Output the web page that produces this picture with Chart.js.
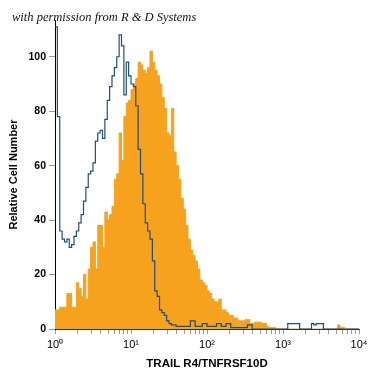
<!DOCTYPE html>
<html>
<head>
<meta charset="utf-8">
<script src="https://cdn.jsdelivr.net/npm/chart.js@4.4.1/dist/chart.umd.min.js"></script>
<style>
html, body { margin: 0; padding: 0; background: #fff; }
#wrap { width: 375px; height: 375px; }
</style>
</head>
<body>
<div id="wrap"><canvas id="myChart"></canvas></div>
<script>
// histogram bins, 32 per decade starting at 10^0
const binsPerDecade = 32;

// stained cells (orange, filled)
const trailValues = [
  7, 7, 8, 8, 8, 13, 13, 8, 8, 17,
  15, 12, 20, 11, 22, 30, 32, 22, 38, 38,
  30, 43, 40, 42, 45, 55, 57, 72, 62, 78,
  83, 84, 88, 90, 92, 98, 97, 95, 94, 96,
  102, 98, 95, 93, 90, 85, 81, 72, 71, 81,
  65, 60, 55, 48, 44, 38, 33, 29, 27, 25,
  22, 18, 17, 16, 14, 13, 11, 10, 10, 11,
  7, 7, 6, 5, 5, 4, 4, 3, 3, 3,
  3.5, 3.5, 2, 2, 2.5, 2.5, 2.5, 2, 2, 1,
  0.5, 0.5, 0.5, 0, 0, 0, 0, 0, 0, 0,
  0, 0, 0, 0, 0, 0, 0, 0, 0, 0,
  0, 0, 0, 0, 0, 0, 0, 0, 0, 1.5,
  0.5, 0.5, 0, 0, 0, 0, 0, 0
];

// isotype control (blue outline)
const controlValues = [
  111, 78, 36, 33, 32, 33, 30, 31, 34, 36,
  39, 42, 47, 52, 57, 58, 61, 69, 72, 73,
  70, 77, 84, 89, 93, 96, 100, 108, 104, 86,
  98, 93, 90, 89, 82, 66, 57, 46, 39, 36,
  33, 25, 14, 12, 7, 6, 5, 3, 2, 1.5,
  1.5, 1, 1, 1, 1, 1, 1, 3, 3, 1,
  1, 1, 2, 2, 1, 1, 1, 1, 2, 2,
  1, 1, 2, 2, 0.5, 0.5, 0.5, 0.5, 0.5, 0.5,
  0.5, 1.5, 1.5, 0, 0, 0, 0, 0, 0, 0,
  0, 0, 0, 0, 0, 0, 0, 0, 2, 2,
  2, 2, 2, 0, 0, 0, 0, 0, 2, 1.5,
  2, 2, 2, 0, 0, 0, 0, 0, 0, 0,
  0, 0, 0, 0, 0, 0, 0, 0
];

const xDecades = [0, 1, 2, 3, 4];
const yTicks = [0, 20, 40, 60, 80, 100];
const supers = ['\u2070', '\u00b9', '\u00b2', '\u00b3', '\u2074'];

function toPoints(values) {
  const pts = values.map((v, i) => ({ x: Math.pow(10, i / binsPerDecade), y: v }));
  pts.push({ x: Math.pow(10, values.length / binsPerDecade), y: values[values.length - 1] });
  return pts;
}

const sans = "'Liberation Sans', Arial, sans-serif";

const config = {
  type: 'line',
  data: {
    datasets: [
      {
        label: 'Control',
        data: toPoints(controlValues),
        stepped: true,
        borderColor: '#1f4f7e',
        borderWidth: 1.2,
        pointRadius: 0,
        fill: false
      },
      {
        label: 'TRAIL R4',
        data: toPoints(trailValues),
        stepped: true,
        borderColor: '#f7a21c',
        borderWidth: 1,
        backgroundColor: '#f7a21c',
        pointRadius: 0,
        fill: 'origin'
      }
    ]
  },
  options: {
    responsive: true,
    maintainAspectRatio: false,
    animation: false,
    layout: { padding: { left: 12, right: 16, top: 0, bottom: 0 } },
    plugins: {
      legend: { display: false },
      tooltip: { enabled: false },
      title: {
        display: true,
        text: 'with permission from R & D Systems',
        align: 'start',
        color: '#111',
        font: { family: "'Liberation Serif', 'DejaVu Serif', serif", style: 'italic', weight: 'normal', size: 12.5, lineHeight: 1.2 },
        padding: { top: 10, bottom: -5 }
      }
    },
    scales: {
      x: {
        type: 'logarithmic',
        min: 1,
        max: 10000,
        afterBuildTicks: (axis) => {
          const t = [];
          xDecades.forEach(d => {
            for (let k = 1; k <= 9; k++) {
              const v = k * Math.pow(10, d);
              if (v <= 10000) t.push({ value: v });
            }
          });
          axis.ticks = t;
        },
        afterFit: (scale) => { scale.height = 46; },
        border: { display: true, color: '#333', width: 1 },
        grid: { drawOnChartArea: false, drawTicks: true, tickLength: 5, tickColor: '#999' },
        ticks: {
          autoSkip: false,
          maxRotation: 0,
          padding: 4,
          color: '#000',
          font: { family: sans, size: 11 },
          callback: (value) => {
            const e = Math.round(Math.log10(value));
            if (Math.abs(Math.log10(value) - e) < 1e-6 && xDecades.includes(e)) return '10' + supers[e];
            return '';
          }
        },
        title: {
          display: true,
          text: 'TRAIL R4/TNFRSF10D',
          color: '#000',
          font: { family: sans, size: 11.5, weight: 'bold' },
          padding: { top: 0, bottom: 4 }
        }
      },
      y: {
        min: 0,
        max: 113.5,
        afterBuildTicks: (axis) => { axis.ticks = yTicks.map(v => ({ value: v })); },
        afterFit: (scale) => { scale.width = 43; },
        border: { display: true, color: '#000', width: 1 },
        grid: { drawOnChartArea: false, drawTicks: true, tickLength: 6, tickColor: '#999' },
        ticks: {
          padding: 3,
          color: '#000',
          font: { family: sans, size: 10.5, weight: 'bold' }
        },
        title: {
          display: true,
          text: 'Relative Cell Number',
          color: '#000',
          font: { family: sans, size: 11, weight: 'bold' },
          padding: { top: -5, bottom: 4 }
        }
      }
    }
  }
};

const myChart = new Chart(document.getElementById('myChart'), config);
</script>
</body>
</html>
